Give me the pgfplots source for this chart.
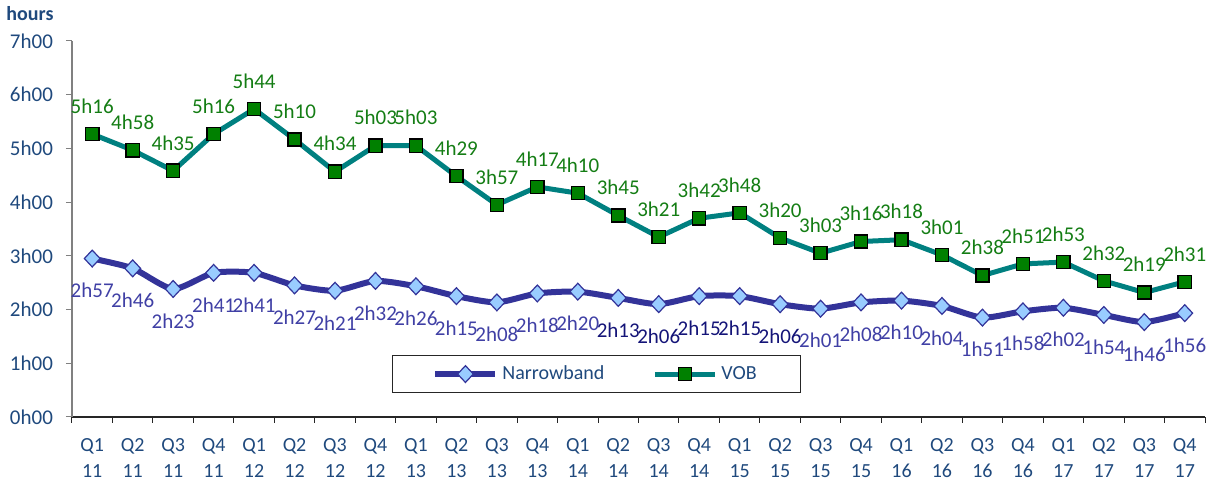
\documentclass[border=0pt]{standalone}
\usepackage{pgfplots}
\usepackage{pgfplotstable}
\pgfplotsset{compat=1.18}
\usepackage{fontspec}
\setmainfont{Carlito}
\definecolor{vobline}{RGB}{0,128,128}
\definecolor{vobmark}{RGB}{0,128,0}
\definecolor{voblab}{RGB}{20,125,20}
\definecolor{nbline}{RGB}{51,51,153}
\definecolor{nbmark}{RGB}{153,204,255}
\definecolor{nblab}{RGB}{64,64,165}
\definecolor{nbdark}{RGB}{20,20,120}
\definecolor{tickcol}{RGB}{31,73,125}
\definecolor{axgray}{RGB}{128,128,128}

\pgfplotstableread{
x vob vlab nb nlab
0 316 5h16 177 2h57
1 298 4h58 166 2h46
2 275 4h35 143 2h23
3 316 5h16 161 2h41
4 344 5h44 161 2h41
5 310 5h10 147 2h27
6 274 4h34 141 2h21
7 303 5h03 152 2h32
8 303 5h03 146 2h26
9 269 4h29 135 2h15
10 237 3h57 128 2h08
11 257 4h17 138 2h18
12 250 4h10 140 2h20
13 225 3h45 133 \textcolor{nbdark}{2h13}
14 201 3h21 126 \textcolor{nbdark}{2h06}
15 222 3h42 135 \textcolor{nbdark}{2h15}
16 228 3h48 135 \textcolor{nbdark}{2h15}
17 200 3h20 126 \textcolor{nbdark}{2h06}
18 183 3h03 121 2h01
19 196 3h16 128 2h08
20 198 3h18 130 2h10
21 181 3h01 124 2h04
22 158 2h38 111 1h51
23 171 2h51 118 1h58
24 173 2h53 122 2h02
25 152 2h32 114 1h54
26 139 2h19 106 1h46
27 151 2h31 116 1h56
}\data

\begin{document}
\begin{tikzpicture}
\begin{axis}[
  name=ax,
  scale only axis,
  width=566.5pt, height=188pt,
  xmin=-0.5, xmax=27.5,
  ymin=0, ymax=420,
  clip=false,
  axis x line*=bottom,
  axis y line*=left,
  x axis line style={draw=black!85, line width=0.6pt},
  y axis line style={draw=axgray, line width=0.6pt},
  xtick={0,...,27},
  xticklabels={Q1\\11,Q2\\11,Q3\\11,Q4\\11,Q1\\12,Q2\\12,Q3\\12,Q4\\12,Q1\\13,Q2\\13,Q3\\13,Q4\\13,Q1\\14,Q2\\14,Q3\\14,Q4\\14,Q1\\15,Q2\\15,Q3\\15,Q4\\15,Q1\\16,Q2\\16,Q3\\16,Q4\\16,Q1\\17,Q2\\17,Q3\\17,Q4\\17},
  major x tick style={draw=none},
  minor xtick={-0.5,0.5,...,27.5},
  minor x tick style={draw=black!85, line width=0.5pt},
  minor tick length=3pt,
  xtick align=outside,
  x tick label style={font=\fontsize{10}{13}\selectfont, text=tickcol, align=center, yshift=-4pt},
  ytick={0,60,...,420},
  yticklabels={0h00,1h00,2h00,3h00,4h00,5h00,6h00,7h00},
  ytick align=outside,
  major tick length=3pt,
  y tick style={draw=axgray, line width=0.5pt},
  y tick label style={font=\fontsize{10.5}{12}\selectfont, text=tickcol, xshift=-3pt},
  legend style={at={(rel axis cs:0.2824,0.0638)}, anchor=south west,
    draw=black!85, line width=0.5pt, font=\fontsize{10}{12}\selectfont, text=tickcol,
    inner xsep=20pt, inner ysep=3pt,
    /tikz/every even column/.append style={column sep=22pt}},
  legend columns=2,
  legend image code/.code={\draw[mark repeat=2,mark phase=2] plot coordinates {(0pt,0pt) (15pt,0pt) (30pt,0pt)};},
]
\addplot[nbline, line width=3pt, smooth, tension=0.4,
  mark=diamond*, mark size=4.2pt,
  mark options={fill=nbmark, draw=nbline, line width=0.6pt, xscale=1.25},
  nodes near coords, point meta=explicit symbolic,
  every node near coord/.append style={anchor=center, yshift=-16pt, text=nblab, font=\fontsize{10.5}{12}\selectfont, inner sep=0pt}]
  table[x=x, y=nb, meta=nlab] {\data};
\addlegendentry{Narrowband}
\addplot[vobline, line width=2.5pt,
  mark=square*, mark size=3.3pt,
  mark options={fill=vobmark, draw=black, line width=0.7pt},
  nodes near coords, point meta=explicit symbolic,
  every node near coord/.append style={anchor=center, yshift=14pt, text=voblab, font=\fontsize{10.5}{12}\selectfont, inner sep=0pt}]
  table[x=x, y=vob, meta=vlab] {\data};
\addlegendentry{VOB}
\coordinate (ll) at (rel axis cs:0,0);
\coordinate (ur) at (rel axis cs:1,1);
\node[font=\bfseries\fontsize{10}{12}\selectfont, text=tickcol] at ([shift={(-21pt,13.5pt)}]rel axis cs:0,1) {hours};
\end{axis}
\path (ll) ++(-36pt,-33.5pt) coordinate (a);
\path (ur) ++(3pt,20.5pt) coordinate (b);
\pgfresetboundingbox
\path (a) rectangle (b);
\end{tikzpicture}
\end{document}
